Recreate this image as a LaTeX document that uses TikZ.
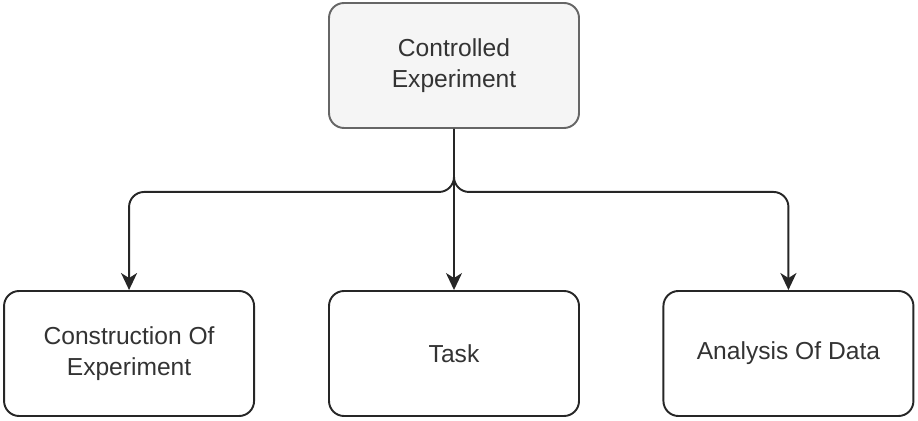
\documentclass[tikz,border=0pt]{standalone}
\usepackage{fontspec}
\setmainfont{Liberation Sans}
\usetikzlibrary{positioning,arrows.meta}
\begin{document}
\begin{tikzpicture}[
  box/.style={draw=black!85, line width=1.1pt, rounded corners=0.3cm,
    minimum width=5cm, minimum height=2.5cm, align=center,
    text=black!80, font=\fontsize{14}{17.5}\selectfont},
  link/.style={draw=black!85, line width=1.1pt, rounded corners=0.3cm,
    -{Stealth[length=0.34cm,width=0.32cm,inset=0.1cm]}}
]
  \useasboundingbox (0,0) rectangle (18.36,8.4);
  % root and the three parts
  \node[box, fill=black!4, draw=black!60] (ctrl) at (9.08,7.09) {Controlled\\Experiment};
  \node[box] (task) at (9.08,1.33) {Task};
  \node[box, left=1.46cm of task] (cons) {Construction Of\\Experiment};
  \node[box, right=1.65cm of task] (anal) {Analysis Of Data};

  \draw[link] (ctrl.south) -- ++(0,-1.26) -| (cons.north);
  \draw[link] (ctrl.south) -- (task.north);
  \draw[link] (ctrl.south) -- ++(0,-1.26) -| (anal.north);
\end{tikzpicture}
\end{document}
